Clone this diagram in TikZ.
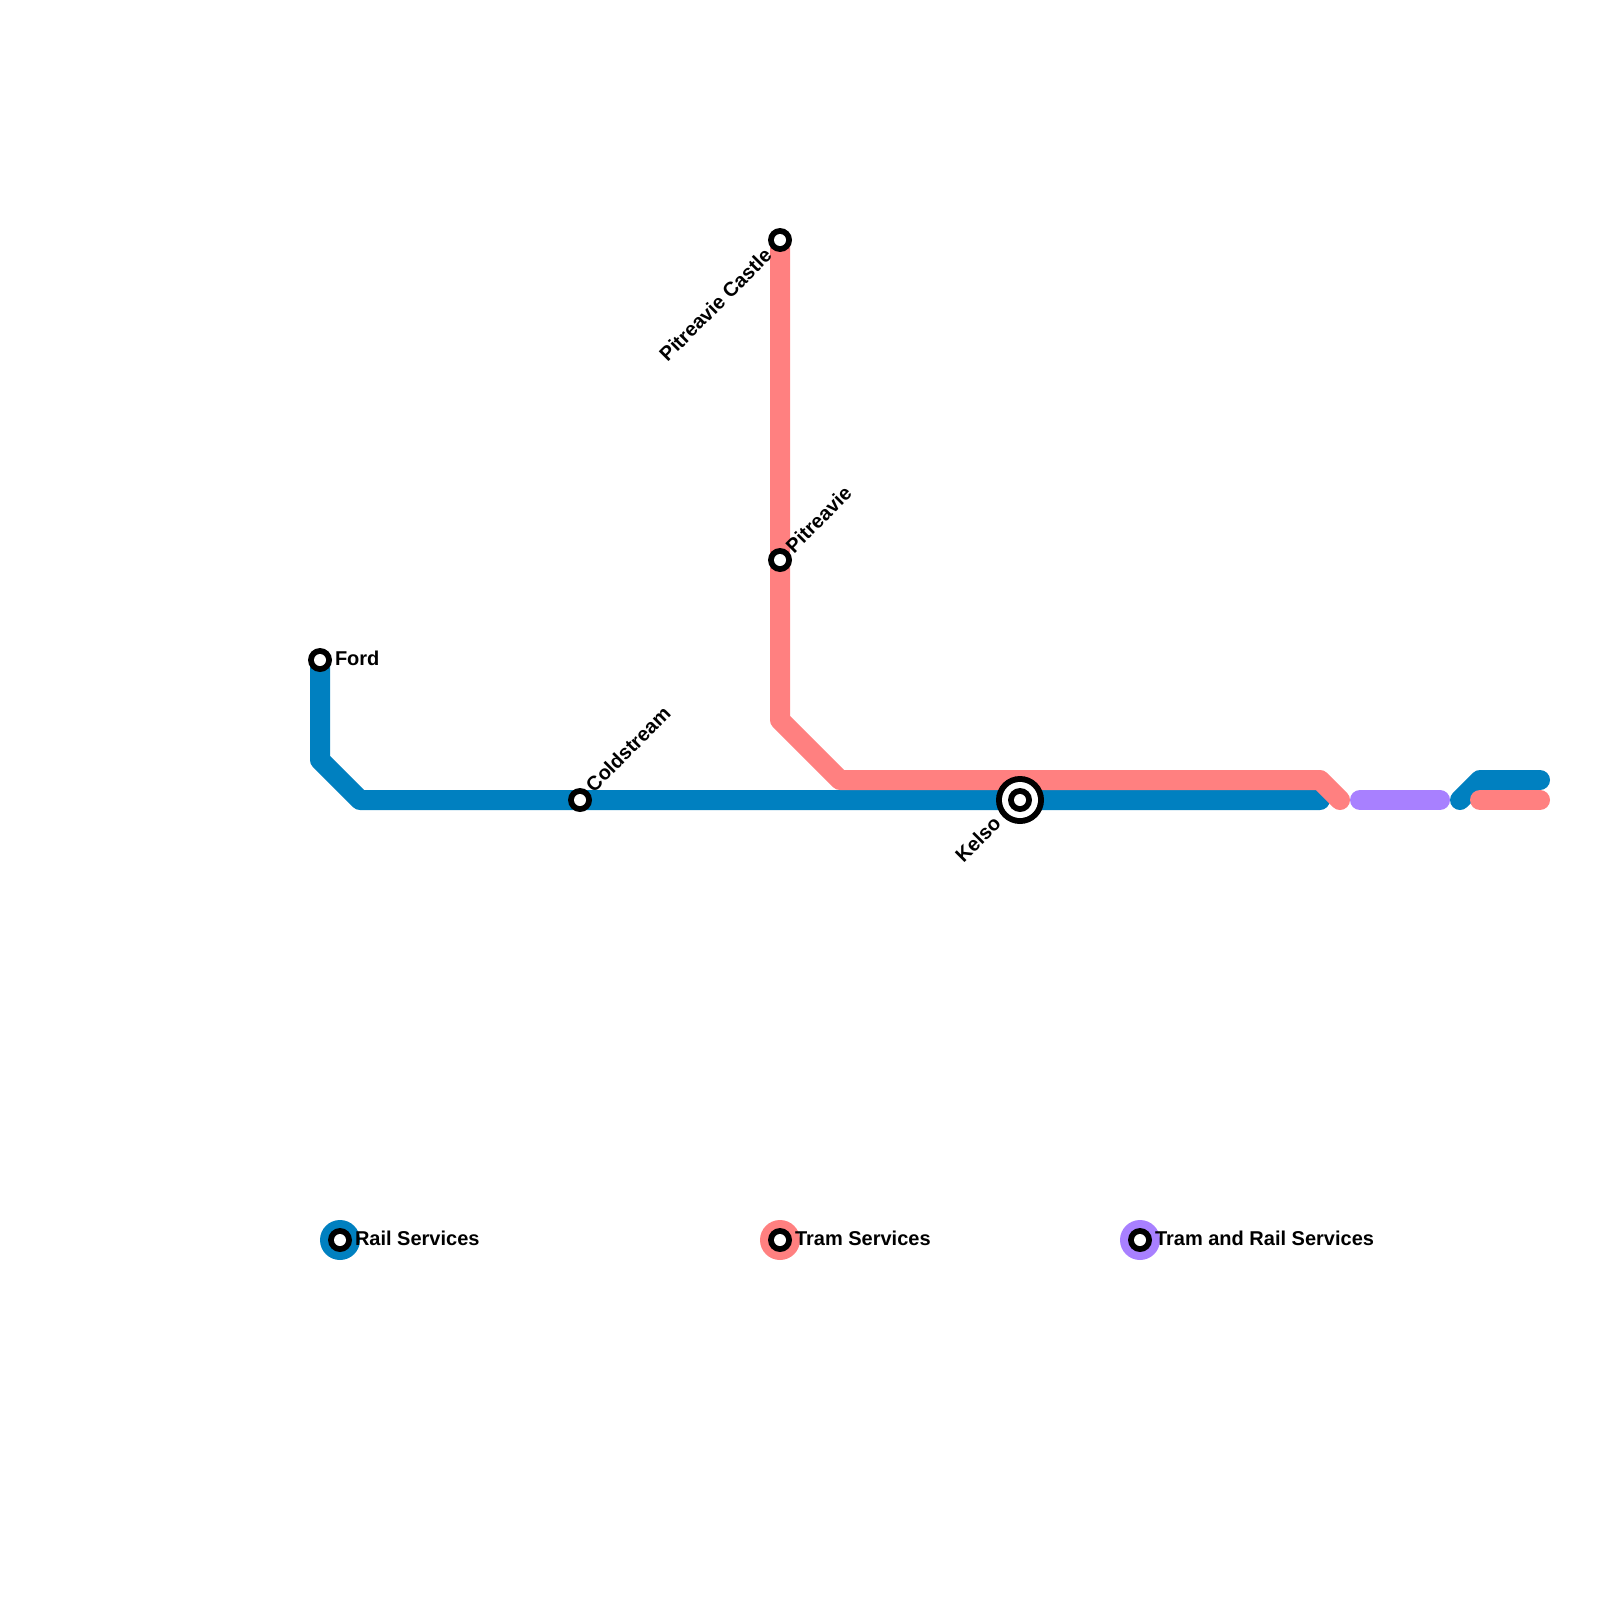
\documentclass[tikz,border=0pt]{standalone}
\usepackage{fontspec}
\setmainfont{Liberation Sans}
\definecolor{railblue}{HTML}{0080C0}
\definecolor{trampink}{HTML}{FF8080}
\definecolor{bothpurple}{HTML}{A880FF}
\tikzset{
  routeline/.style={line width=20pt,line cap=round,line join=round},
  disc/.style={circle,draw=none,inner sep=0pt,outer sep=0pt,minimum size=#1},
  blackdisc/.style={disc=#1,fill=black},
  whitedisc/.style={disc=#1,fill=white},
  legenddisc/.style={disc=40pt},
  lbl/.style={font=\fontsize{20}{24}\selectfont\bfseries,text=black,inner sep=0pt,outer sep=0pt},
}
\begin{document}
\begin{tikzpicture}[x=1pt,y=-1pt]
\useasboundingbox (0,0) rectangle (1600,1600);
\fill[white] (0,0) rectangle (1600,1600);
% coordinates
\coordinate (b1) at (320,760);
\coordinate (b2) at (360,800);
\coordinate (b3) at (1320,800);
\coordinate (p1) at (780,720);
\coordinate (p2) at (840,780);
\coordinate (p3) at (1320,780);
\coordinate (p4) at (1340,800);
\coordinate (v1) at (1360,800);
\coordinate (v2) at (1440,800);
\coordinate (c1) at (1460,800);
\coordinate (c2) at (1480,780);
\coordinate (c3) at (1540,780);
\coordinate (d1) at (1480,800);
\coordinate (d2) at (1540,800);
\coordinate (ford) at (320,660);
\coordinate (cold) at (580,800);
\coordinate (kels) at (1020,800);
\coordinate (pitc) at (780,240);
\coordinate (pitr) at (780,560);
% routes
\draw[routeline,railblue] (ford) -- (b1) -- (b2) -- (b3);
\draw[routeline,trampink] (pitc) -- (p1) -- (p2) -- (p3) -- (p4);
\draw[routeline,bothpurple] (v1) -- (v2);
\draw[routeline,railblue] (c1) -- (c2) -- (c3);
\draw[routeline,trampink] (d1) -- (d2);
% stations
\node[blackdisc=24pt] (nford) at (ford) {};
\node[whitedisc=12pt] (nfordw) at (ford) {};
\node[blackdisc=24pt] (ncold) at (cold) {};
\node[whitedisc=12pt] (ncoldw) at (cold) {};
\node[blackdisc=24pt] (npitc) at (pitc) {};
\node[whitedisc=12pt] (npitcw) at (pitc) {};
\node[blackdisc=24pt] (npitr) at (pitr) {};
\node[whitedisc=12pt] (npitrw) at (pitr) {};
\node[blackdisc=48pt] (nkels) at (kels) {};
\node[whitedisc=36pt] (nkelsa) at (kels) {};
\node[blackdisc=24pt] (nkelsb) at (kels) {};
\node[whitedisc=12pt] (nkelsc) at (kels) {};
% station labels
\node[lbl,anchor=west] (tford) at (335,658) {Ford};
\node[lbl,anchor=west,rotate=45] (tcold) at (589,788) {Coldstream};
\node[lbl,anchor=west,rotate=45] (tpitr) at (789,549) {Pitreavie};
\node[lbl,anchor=east,rotate=45] (tpitc) at (768,252) {Pitreavie Castle};
\node[lbl,anchor=east,rotate=45] (tkels) at (997,820) {Kelso};
% legend
\node[legenddisc,fill=railblue] (lr) at (340,1240) {};
\node[blackdisc=24pt] (lrk) at (340,1240) {};
\node[whitedisc=12pt] (lrw) at (340,1240) {};
\node[lbl,anchor=west] (tr) at (355,1238) {Rail Services};
\node[legenddisc,fill=trampink] (lt) at (780,1240) {};
\node[blackdisc=24pt] (ltk) at (780,1240) {};
\node[whitedisc=12pt] (ltw) at (780,1240) {};
\node[lbl,anchor=west] (tt) at (795,1238) {Tram Services};
\node[legenddisc,fill=bothpurple] (lb) at (1140,1240) {};
\node[blackdisc=24pt] (lbk) at (1140,1240) {};
\node[whitedisc=12pt] (lbw) at (1140,1240) {};
\node[lbl,anchor=west] (tb) at (1155,1238) {Tram and Rail Services};
\end{tikzpicture}
\end{document}
